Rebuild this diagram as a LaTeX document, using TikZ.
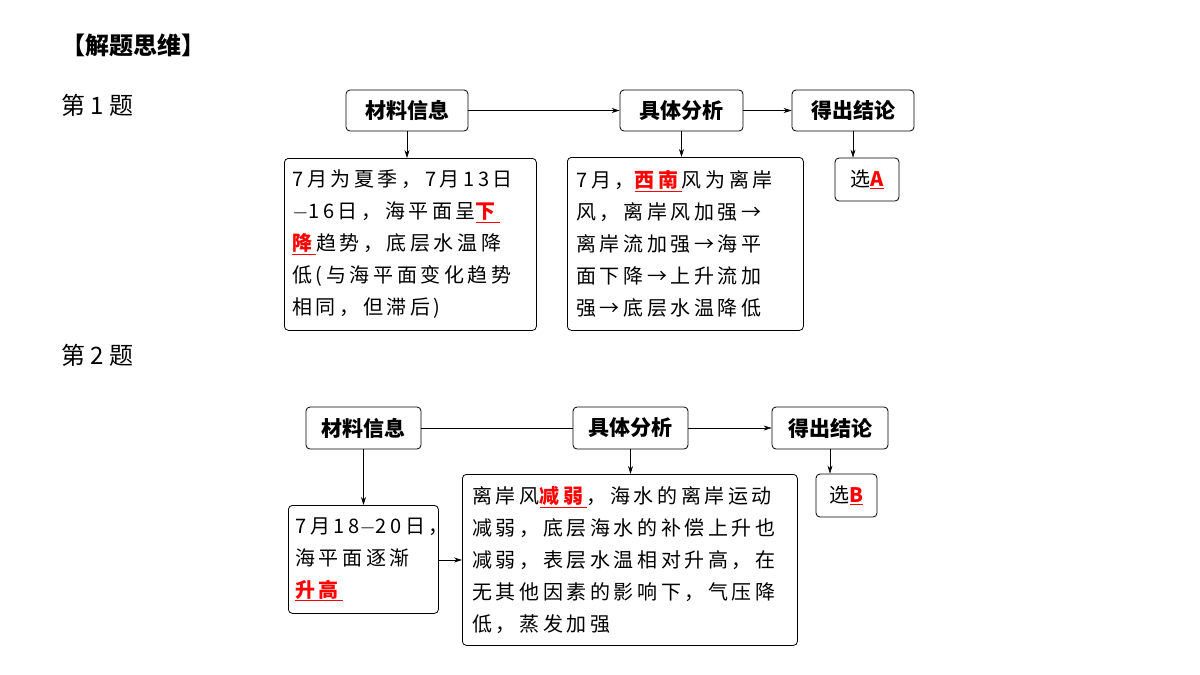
\documentclass[tikz,border=0pt]{standalone}
\usepackage{fontspec}
\setmainfont{Noto Sans CJK SC}
\usepackage{xcolor}
\usetikzlibrary{arrows.meta}
\newcommand{\hl}[1]{\textcolor{red}{\underline{\textbf{#1}}}}
\begin{document}
\begin{tikzpicture}[x=1pt,y=-1pt,
 hdr/.style={draw,rounded corners=4pt,thick,font=\fontsize{21}{24}\selectfont\bfseries,inner sep=0pt},
 txt/.style={draw,rounded corners=4pt,thick,font=\fontsize{20}{32}\selectfont\addfontfeature{LetterSpace=18},align=left,anchor=north west,inner ysep=0pt},
 arr/.style={-{Stealth[length=8pt,width=5pt]},semithick}]
\useasboundingbox (0,0) rectangle (1200,675);
\node[font=\fontsize{24}{28}\selectfont\bfseries,anchor=west] (t) at (58,45) {【解题思维】};
\node[font=\fontsize{24}{28}\selectfont,anchor=west] (q1) at (58,105) {第 1 题};
\node[font=\fontsize{24}{28}\selectfont,anchor=west] (q2) at (58,355) {第 2 题};
% row 1
\node[hdr,minimum width=122pt,minimum height=41pt] (a1) at (407,110.5) {材料信息};
\node[hdr,minimum width=123pt,minimum height=41pt] (b1) at (681.5,110.5) {具体分析};
\node[hdr,minimum width=122pt,minimum height=41pt] (c1) at (853,110.5) {得出结论};
\node[txt,minimum width=252pt,minimum height=172pt,text width=236pt,inner xsep=8pt] (d1) at (284,158) {7月为夏季，7月13日\\$-$16日，海平面呈\hl{下}\\\hl{降}趋势，底层水温降\\低(与海平面变化趋势\\相同，但滞后)};
\node[txt,minimum width=236pt,minimum height=173pt,text width=218pt,inner xsep=9pt] (e1) at (567,157) {7月，\hl{西南}风为离岸\\风，离岸风加强→\\离岸流加强→海平\\面下降→上升流加\\强→底层水温降低};
\node[hdr,font=\fontsize{20}{24}\selectfont,minimum width=64pt,minimum height=43pt] (f1) at (867,179.5) {选\hl{A}};
\draw[arr] (a1) -- (b1);
\draw[arr] (b1) -- (c1);
\draw[arr] (a1.south) -- (a1.south|-d1.north);
\draw[arr] (b1.south) -- (b1.south|-e1.north);
\draw[arr] (c1.south) -- (c1.south|-f1.north);
% row 2
\node[hdr,minimum width=115pt,minimum height=42pt] (a2) at (363.5,428) {材料信息};
\node[hdr,minimum width=115pt,minimum height=42pt] (b2) at (630.5,428) {具体分析};
\node[hdr,minimum width=116pt,minimum height=42pt] (c2) at (830,428) {得出结论};
\node[txt,minimum width=150pt,minimum height=108pt,text width=136pt,inner xsep=7pt] (d2) at (288,505) {7月18$-$20日，\\海平面逐渐\\\hl{升高}};
\node[txt,minimum width=335pt,minimum height=171pt,text width=315pt,inner xsep=10pt] (e2) at (462,474) {离岸风\hl{减弱}，海水的离岸运动\\减弱，底层海水的补偿上升也\\减弱，表层水温相对升高，在\\无其他因素的影响下，气压降\\低，蒸发加强};
\node[hdr,font=\fontsize{20}{24}\selectfont,minimum width=61pt,minimum height=43pt] (f2) at (846.5,495.5) {选\hl{B}};
\draw[semithick] (a2) -- (b2);
\draw[arr] (b2) -- (c2);
\draw[arr] (a2.south) -- (a2.south|-d2.north);
\draw[arr] (b2.south) -- (b2.south|-e2.north);
\draw[arr] (c2.south) -- (c2.south|-f2.north);
\draw[arr] (d2.east|-0,560) -- (e2.west|-0,560);
\end{tikzpicture}
\end{document}
